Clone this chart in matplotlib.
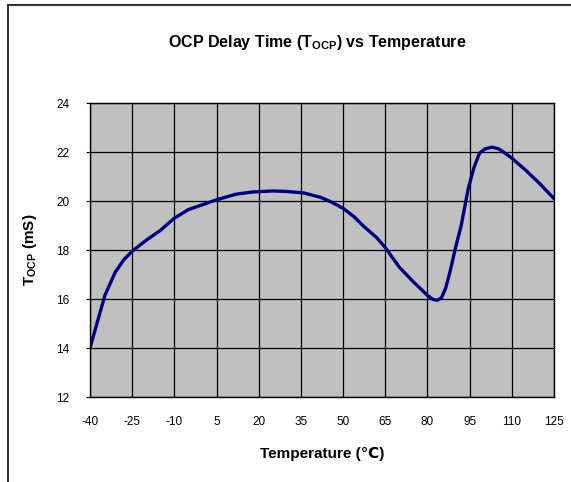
import matplotlib
matplotlib.use("Agg")
import matplotlib.pyplot as plt
from matplotlib.lines import Line2D

plt.rcParams['font.family'] = ['Liberation Sans', 'DejaVu Sans']
plt.rcParams['mathtext.default'] = 'regular'
plt.rcParams['axes.unicode_minus'] = False

# valores
temperatura = [-40, -34.7, -31, -28, -25, -20, -15, -10, -5, 0, 5, 12, 18, 25, 30, 36,
               42, 46, 50, 54, 57, 62, 65, 70, 75, 80, 82, 83.5, 85, 86.5, 88, 90, 92, 94.5,
               96.5, 98.5, 100.5, 103, 105.5, 108, 110, 115, 120, 125]
tocp = [14.0, 16.15, 17.1, 17.6, 17.95, 18.4, 18.8, 19.3, 19.65, 19.85, 20.05, 20.28, 20.37, 20.41, 20.39, 20.33,
        20.15, 19.95, 19.7, 19.35, 19.0, 18.5, 18.1, 17.3, 16.7, 16.15, 15.98, 15.95, 16.05, 16.45, 17.1, 18.1, 19.0, 20.5,
        21.35, 21.95, 22.13, 22.2, 22.12, 21.92, 21.75, 21.25, 20.7, 20.1]
xticks = [-40, -25, -10, 5, 20, 35, 50, 65, 80, 95, 110, 125]
yticks = [12, 14, 16, 18, 20, 22, 24]

fig = plt.figure(figsize=(5.71, 4.82), dpi=100)
ax = fig.add_axes([0.1576, 0.1763, 0.8126, 0.61])
ax.set_facecolor('#c0c0c0')
ax.plot(temperatura, tocp, color='#000080', linewidth=2.4,
        solid_capstyle='round', solid_joinstyle='round')

ax.set_xlim(-40, 125)
ax.set_ylim(12, 24)
ax.set_xticks(xticks)
ax.set_yticks(yticks)
ax.grid(True, color='black', linewidth=0.9)
ax.set_axisbelow(True)
for s in ax.spines.values():
    s.set_color('black')
    s.set_linewidth(1.0)
ax.tick_params(axis='x', length=0, pad=14, labelsize=8.5)
ax.tick_params(axis='y', length=3, direction='out', pad=12, labelsize=8.5)

ax.set_xlabel('Temperature (℃)', fontsize=11, fontweight='bold', labelpad=13)
ax.set_ylabel('T$_{OCP}$ (mS)', fontsize=11, fontweight='bold', labelpad=12)
fig.text(0.556, 0.912, 'OCP Delay Time (T$_{OCP}$) vs Temperature',
         ha='center', va='center', fontsize=11.5, fontweight='bold')

# moldura
fig.add_artist(Line2D([8 / 571, 1], [1 - 5 / 482, 1 - 5 / 482], color='#333333', linewidth=1.5))
fig.add_artist(Line2D([8 / 571, 8 / 571], [0, 1 - 5 / 482], color='#333333', linewidth=1.5))

fig.savefig('out.png', dpi=100)
